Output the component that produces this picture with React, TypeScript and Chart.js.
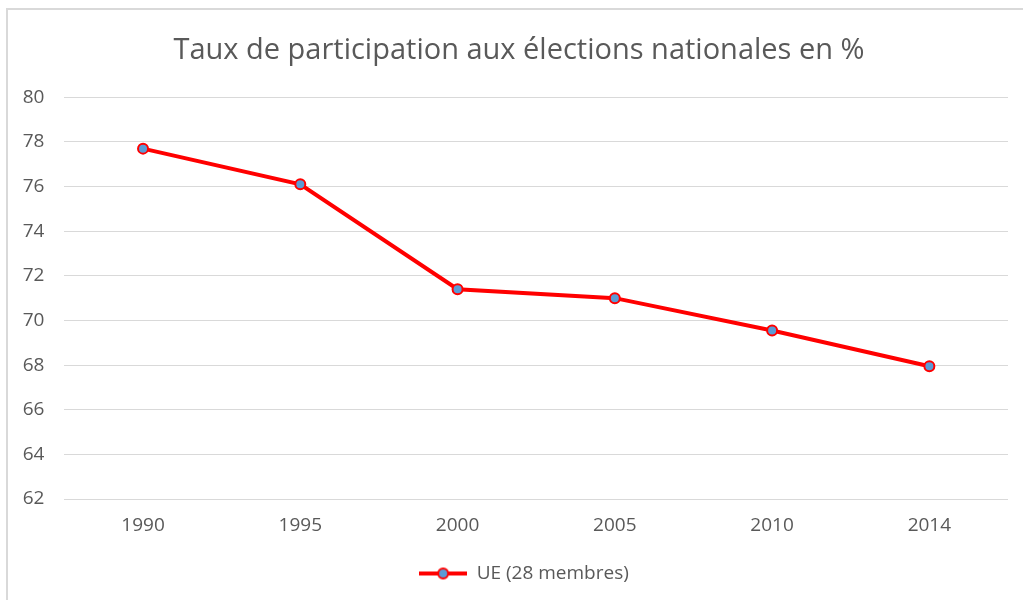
import React, { useEffect, useRef } from "react";
import { Chart, registerables } from "chart.js";

Chart.register(...registerables);

const categories = ["1990", "1995", "2000", "2005", "2010", "2014"];
const turnout = [77.7, 76.1, 71.4, 71.0, 69.55, 67.95];
const seriesLabel = "UE (28 membres)";
const titleText = "Taux de participation aux élections nationales en %";

const FONT = "'Open Sans', sans-serif";
const TEXT = "#595959";
const RED = "#ff0000";
const BLUE = "#5b9bd5";

function makeLegendMarker(): HTMLCanvasElement {
  const c = document.createElement("canvas");
  c.width = 48;
  c.height = 14;
  const ctx = c.getContext("2d")!;
  ctx.strokeStyle = RED;
  ctx.lineWidth = 4;
  ctx.beginPath();
  ctx.moveTo(0, 7);
  ctx.lineTo(48, 7);
  ctx.stroke();
  ctx.beginPath();
  ctx.arc(24, 7, 5, 0, Math.PI * 2);
  ctx.fillStyle = BLUE;
  ctx.fill();
  ctx.lineWidth = 2;
  ctx.strokeStyle = RED;
  ctx.stroke();
  return c;
}

const shiftPlugin = {
  id: "shiftBoxes",
  afterLayout(ch: any) {
    if (ch.titleBlock) {
      ch.titleBlock.left += 10;
      ch.titleBlock.right += 10;
    }
    if (ch.legend) {
      ch.legend.left += 15;
      ch.legend.right += 15;
    }
  },
};

export default function App() {
  const ref = useRef<HTMLCanvasElement | null>(null);
  useEffect(() => {
    document.body.style.margin = "0";
    const marker = makeLegendMarker();
    const chart = new Chart(ref.current!, {
      type: "line",
      data: {
        labels: categories,
        datasets: [
          {
            label: seriesLabel,
            data: turnout,
            borderColor: RED,
            borderWidth: 4,
            pointRadius: 5,
            pointBackgroundColor: BLUE,
            pointBorderColor: RED,
            pointBorderWidth: 2,
            tension: 0,
          },
        ],
      },
      plugins: [shiftPlugin],
      options: {
        animation: false,
        responsive: false,
        layout: { padding: { left: 10, right: 15, top: 0, bottom: 7 } },
        plugins: {
          title: {
            display: true,
            text: titleText,
            color: TEXT,
            font: { family: FONT, size: 29, weight: "normal" },
            padding: { top: 33, bottom: 29.5 },
          },
          legend: {
            position: "bottom",
            labels: {
              color: TEXT,
              font: { family: FONT, size: 19 },
              usePointStyle: true,
              pointStyleWidth: 48,
              generateLabels: (ch: any) => {
                const items = Chart.defaults.plugins.legend.labels.generateLabels(ch);
                return items.map((it: any) => ({ ...it, pointStyle: marker }));
              },
            },
          },
          tooltip: { enabled: false },
        },
        scales: {
          x: {
            offset: true,
            grid: { display: false, drawTicks: false },
            border: { display: false },
            ticks: { color: TEXT, font: { family: FONT, size: 19 }, padding: 15 },
            afterFit: (s: any) => {
              s.height = 55;
            },
          },
          y: {
            min: 62,
            max: 80,
            grid: { color: "#d9d9d9", lineWidth: 1, drawTicks: false },
            border: { display: false },
            ticks: { stepSize: 2, color: TEXT, font: { family: FONT, size: 19 }, padding: 20 },
            afterFit: (s: any) => {
              s.width = 54.4;
            },
          },
        },
      },
    });
    return () => chart.destroy();
  }, []);
  return (
    <div style={{ position: "relative", width: 1023, height: 600, background: "#fff" }}>
      <div
        style={{
          position: "absolute",
          left: 6,
          top: 8,
          width: 1030,
          height: 600,
          borderLeft: "2px solid #d9d9d9",
          borderTop: "2px solid #d9d9d9",
        }}
      />
      <canvas ref={ref} width={1023} height={600} style={{ position: "absolute", left: 0, top: 0 }} />
    </div>
  );
}
